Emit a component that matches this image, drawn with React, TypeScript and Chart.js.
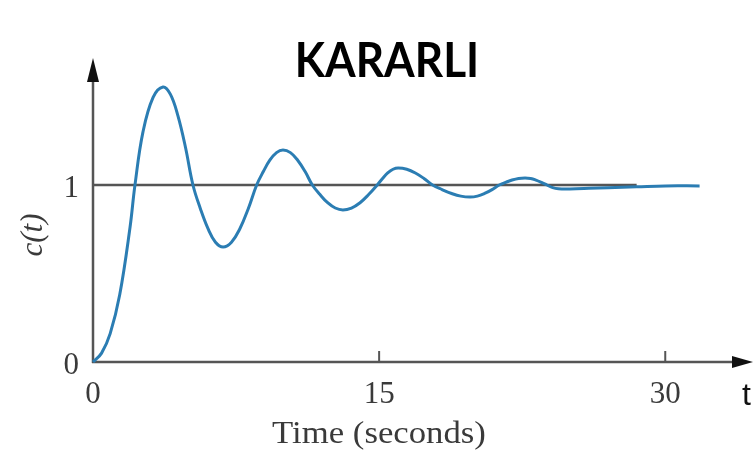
import React, { useEffect, useRef } from "react";
import { Chart, registerables } from "chart.js";

Chart.register(...registerables);

// ---- data ----
const timeValues = [
  0, 0.45, 0.9, 1.4, 1.94, 2.2, 2.62, 3.15, 3.67,
  4.06, 4.45, 4.85, 5.24, 5.63, 6.03, 6.42, 6.82,
  7.26, 7.7, 8.14, 8.58, 8.93, 9.27, 9.62, 9.96,
  10.35, 10.73, 11.12, 11.5, 11.9, 12.3, 12.7, 13.1,
  13.55, 14.0, 14.45, 14.9, 15.18, 15.45, 15.73, 16.0,
  16.45, 16.9, 17.35, 17.8, 18.3, 18.8, 19.28, 19.77,
  20.15, 20.53, 20.92, 21.3, 21.64, 21.97, 22.31, 22.65,
  22.94, 23.22, 23.51, 23.8, 24.1, 24.4, 25.0, 26.0, 27.0, 28.5, 30.0, 31.8,
];
const responseValues = [
  0, 0.05, 0.16, 0.38, 0.76, 1.0, 1.3, 1.495, 1.554,
  1.512, 1.392, 1.212, 1.0, 0.866, 0.753, 0.677, 0.65,
  0.677, 0.753, 0.866, 1.0, 1.076, 1.14, 1.183, 1.198,
  1.183, 1.14, 1.076, 1.0, 0.946, 0.9, 0.87, 0.859,
  0.87, 0.9, 0.946, 1.0, 1.037, 1.068, 1.089, 1.096,
  1.089, 1.068, 1.037, 1.0, 0.974, 0.952, 0.937, 0.932,
  0.937, 0.952, 0.974, 1.0, 1.015, 1.028, 1.037, 1.04,
  1.037, 1.028, 1.015, 1.0, 0.985, 0.979, 0.978, 0.981, 0.985, 0.99, 0.995, 0.995,
];
const refLineTimes = [0, 28.5];
const refLineValues = [1, 1];
const xTickValues = [0, 15, 30];
const xTickLabels = ["0", "15", "30"];
const yTickValues = [0, 1];
const yTickLabels = ["0", "1"];
const titleText = "KARARLI";
const xAxisTitle = "Time (seconds)";
const yAxisTitle = "c(t)";
const axisEndLabel = "t";

const X_MAX = 34.6;
const Y_MAX = 1.7175;

const AXIS_COLOR = "#555555";
const TEXT_COLOR = "#3a3a3a";
const CURVE_COLOR = "#2b7db3";

const axesPlugin = {
  id: "customAxes",
  beforeDatasetsDraw(chart: any) {
    const { ctx, chartArea, scales } = chart;
    const x0 = scales.x.getPixelForValue(0);
    const y0 = scales.y.getPixelForValue(0);
    ctx.save();
    ctx.strokeStyle = AXIS_COLOR;
    ctx.fillStyle = "#111111";
    ctx.lineWidth = 2.5;
    // y axis
    ctx.beginPath();
    ctx.moveTo(x0, y0 + 1);
    ctx.lineTo(x0, chartArea.top + 20);
    ctx.stroke();
    ctx.beginPath();
    ctx.moveTo(x0, chartArea.top);
    ctx.lineTo(x0 - 6, chartArea.top + 24);
    ctx.lineTo(x0 + 6, chartArea.top + 24);
    ctx.closePath();
    ctx.fill();
    // x axis
    ctx.beginPath();
    ctx.moveTo(x0 - 1, y0);
    ctx.lineTo(chartArea.right - 18, y0);
    ctx.stroke();
    ctx.beginPath();
    ctx.moveTo(chartArea.right, y0);
    ctx.lineTo(chartArea.right - 21, y0 - 6);
    ctx.lineTo(chartArea.right - 21, y0 + 6);
    ctx.closePath();
    ctx.fill();
    // x tick marks
    ctx.lineWidth = 2;
    xTickValues.forEach((v) => {
      if (v === 0) return;
      const px = scales.x.getPixelForValue(v);
      ctx.beginPath();
      ctx.moveTo(px, y0);
      ctx.lineTo(px, y0 - 11);
      ctx.stroke();
    });
    ctx.restore();
  },
  afterDraw(chart: any) {
    const { ctx, scales, chartArea } = chart;
    ctx.save();
    // title
    ctx.save();
    ctx.fillStyle = "#000000";
    ctx.font = "bold 48px Lato, 'Open Sans', sans-serif";
    ctx.textAlign = "center";
    ctx.textBaseline = "alphabetic";
    ctx.translate(387, 77);
    ctx.scale(0.92, 1);
    ctx.fillText(titleText, 0, 0);
    ctx.restore();

    // tick labels
    ctx.fillStyle = TEXT_COLOR;
    ctx.font = "31px 'Liberation Serif', 'DejaVu Serif', serif";
    ctx.textAlign = "center";
    const y0 = scales.y.getPixelForValue(0);
    xTickValues.forEach((v, i) => {
      const px = scales.x.getPixelForValue(v);
      ctx.fillText(xTickLabels[i], px, y0 + 41);
    });
    ctx.textAlign = "right";
    yTickValues.forEach((v, i) => {
      const py = scales.y.getPixelForValue(v);
      ctx.fillText(yTickLabels[i], 79, py + 12);
    });

    // x axis title
    ctx.save();
    ctx.textAlign = "center";
    ctx.translate(379, 443);
    ctx.scale(1.12, 1);
    ctx.fillText(xAxisTitle, 0, 0);
    ctx.restore();

    // y axis title
    ctx.save();
    ctx.font = "italic 31px 'Liberation Serif', 'DejaVu Serif', serif";
    ctx.textAlign = "center";
    ctx.textBaseline = "middle";
    ctx.translate(34, 235);
    ctx.rotate(-Math.PI / 2);
    ctx.fillText(yAxisTitle, 0, 0);
    ctx.restore();

    // axis end label
    ctx.fillStyle = "#111111";
    ctx.font = "32px 'Liberation Sans', Arial, sans-serif";
    ctx.textAlign = "left";
    ctx.fillText(axisEndLabel, chartArea.right - 11, y0 + 43);
    ctx.restore();
  },
};

export default function App() {
  const canvasRef = useRef<HTMLCanvasElement | null>(null);

  useEffect(() => {
    if (!canvasRef.current) return;
    const curve = timeValues.map((t, i) => ({ x: t, y: responseValues[i] }));
    const ref = refLineTimes.map((t, i) => ({ x: t, y: refLineValues[i] }));
    const chart = new Chart(canvasRef.current, {
      type: "line",
      data: {
        datasets: [
          {
            data: curve,
            borderColor: CURVE_COLOR,
            borderWidth: 3,
            pointRadius: 0,
            tension: 0.4,
            fill: false,
            order: 1,
          },
          {
            data: ref,
            borderColor: AXIS_COLOR,
            borderWidth: 2.5,
            pointRadius: 0,
            fill: false,
            order: 2,
          },
        ],
      },
      options: {
        animation: false,
        responsive: false,
        clip: false as any,
        layout: { padding: { left: 93, top: 58, right: 0, bottom: 98 } },
        plugins: {
          legend: { display: false },
          tooltip: { enabled: false },
          title: { display: false },
        },
        scales: {
          x: { type: "linear", min: 0, max: X_MAX, display: false },
          y: { type: "linear", min: 0, max: Y_MAX, display: false },
        },
      },
      plugins: [axesPlugin],
    });
    return () => chart.destroy();
  }, []);

  return (
    <div
      style={{
        position: "absolute",
        left: 0,
        top: 0,
        width: 753,
        height: 460,
        background: "#ffffff",
      }}
    >
      <canvas ref={canvasRef} width={753} height={460} />
    </div>
  );
}
